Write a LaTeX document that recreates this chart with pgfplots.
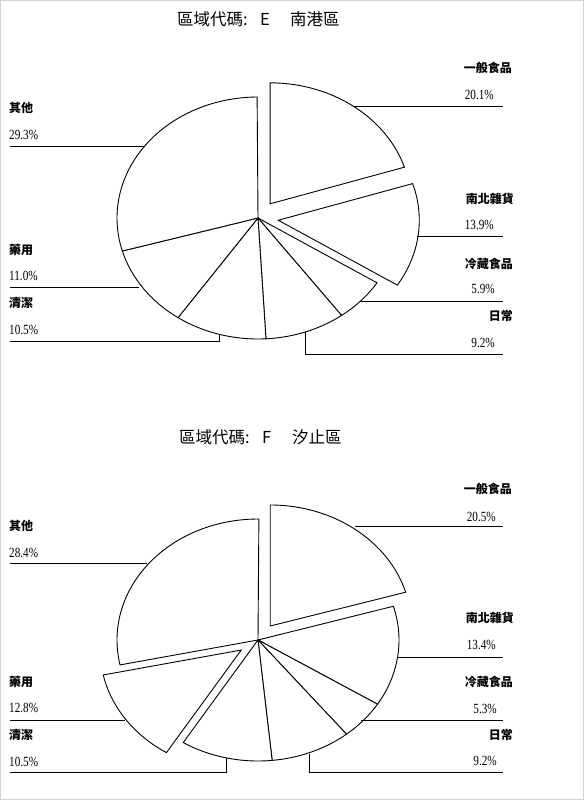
\documentclass[border=0pt]{standalone}
\usepackage{fontspec}
\setmainfont{Liberation Serif}
\newfontfamily\cjk{Noto Sans CJK TC}
\newfontfamily\pctfont[FakeStretch=0.8]{Liberation Serif}
\usepackage{pgfplots}
\usepackage{pgfplotstable}
\pgfplotsset{compat=1.18}

% share of each category, clockwise from 12 o'clock; expl=1 pulls the slice out
\pgfplotstableread{
pct expl
20.1 1
13.9 1
5.9 0
9.2 0
10.5 0
11.0 0
29.3 0
}\dataE
\pgfplotstableread{
pct expl
20.5 1
13.4 0
5.3 0
9.2 0
10.5 0
12.8 1
28.4 0
}\dataF

\def\rx{141}
\def\ry{121}
\def\pull{0.145}

\tikzset{
  pieline/.style={draw=black, fill=white, line width=0.9pt, line join=miter},
  lead/.style={draw=black, line width=0.8pt},
  cn/.style={font=\cjk\bfseries\fontsize{12}{12}\selectfont, inner sep=0pt},
  tt/.style={font=\cjk\fontsize{16.5}{16.5}\selectfont, inner sep=0pt, anchor=west},
  pc/.style={font=\pctfont\fontsize{14}{14}\selectfont, inner sep=0pt},
}

% #1 table, #2 #3 centre in axis units
\newcommand\drawpie[3]{%
  \pgfplotstablegetrowsof{#1}%
  \pgfmathtruncatemacro\lastrow{\pgfplotsretval-1}%
  \gdef\cum{0}%
  \foreach \i in {0,...,\lastrow}{%
    \pgfplotstablegetelem{\i}{pct}\of#1\let\p\pgfplotsretval
    \pgfplotstablegetelem{\i}{expl}\of#1\let\e\pgfplotsretval
    \pgfmathsetmacro\a{90-3.6*\cum}%
    \pgfmathsetmacro\b{90-3.6*(\cum+\p)}%
    \pgfmathsetmacro\m{(\a+\b)/2}%
    \pgfmathsetmacro\ox{\e*\pull*\rx}%
    \pgfmathsetmacro\oy{\e*\pull*\ry}%
    \pgfmathsetmacro\newcum{\cum+\p}\xdef\cum{\newcum}%
    \draw[pieline] (axis cs:#2,#3) ++(\m:\ox pt and \oy pt)
      -- ++(\a:\rx pt and \ry pt)
      arc[start angle=\a, end angle=\b, x radius=\rx pt, y radius=\ry pt] -- cycle;
  }%
}

\begin{document}
\begin{tikzpicture}
\begin{axis}[
  width=584pt, height=800pt, scale only axis,
  xmin=0, xmax=584, ymin=0, ymax=800, y dir=reverse,
  hide axis, clip=false,
]
\pgfplotsextra{\drawpie{\dataE}{258}{218}\drawpie{\dataF}{258}{640}}

% ---- E
\node[tt] at (axis cs:177,19) {區域代碼:};
\node[tt] at (axis cs:260,19) {E};
\node[tt] at (axis cs:290,19) {南港區};

\node[cn, anchor=west] at (axis cs:9,108) {其他};
\node[pc, anchor=west] at (axis cs:9,135) {29.3\%};
\draw[lead] (axis cs:10,146) -- (axis cs:145,146);
\node[cn, anchor=west] at (axis cs:9,250) {藥用};
\node[pc, anchor=west] at (axis cs:9,276) {11.0\%};
\draw[lead] (axis cs:10,287) -- (axis cs:139,287);
\node[cn, anchor=west] at (axis cs:9,303) {清潔};
\node[pc, anchor=west] at (axis cs:9,330) {10.5\%};
\draw[lead] (axis cs:10,341) -- (axis cs:219,341) -- (axis cs:219,334);

\node[cn, anchor=east] at (axis cs:512,68) {一般食品};
\node[pc, anchor=east] at (axis cs:494,95) {20.1\%};
\draw[lead] (axis cs:353,106) -- (axis cs:503,106);
\node[cn, anchor=east] at (axis cs:514,199) {南北雜貨};
\node[pc, anchor=east] at (axis cs:494,225) {13.9\%};
\draw[lead] (axis cs:417,236) -- (axis cs:503,236);
\node[cn, anchor=east] at (axis cs:513,264) {冷藏食品};
\node[pc, anchor=east] at (axis cs:495,289) {5.9\%};
\draw[lead] (axis cs:360,301) -- (axis cs:503,301);
\node[cn, anchor=east] at (axis cs:513,316) {日常};
\node[pc, anchor=east] at (axis cs:495,343) {9.2\%};
\draw[lead] (axis cs:305,332) -- (axis cs:305,354) -- (axis cs:503,354);

% ---- F
\node[tt] at (axis cs:179,437) {區域代碼:};
\node[tt] at (axis cs:262,437) {F};
\node[tt] at (axis cs:292,437) {汐止區};

\node[cn, anchor=west] at (axis cs:9,526) {其他};
\node[pc, anchor=west] at (axis cs:9,553) {28.4\%};
\draw[lead] (axis cs:10,563) -- (axis cs:147,563);
\node[cn, anchor=west] at (axis cs:9,682) {藥用};
\node[pc, anchor=west] at (axis cs:9,708) {12.8\%};
\draw[lead] (axis cs:10,720) -- (axis cs:125,720);
\node[cn, anchor=west] at (axis cs:9,735) {清潔};
\node[pc, anchor=west] at (axis cs:9,762) {10.5\%};
\draw[lead] (axis cs:10,772) -- (axis cs:226,772) -- (axis cs:226,758);

\node[cn, anchor=east] at (axis cs:512,489) {一般食品};
\node[pc, anchor=east] at (axis cs:496,517) {20.5\%};
\draw[lead] (axis cs:355,526) -- (axis cs:503,526);
\node[cn, anchor=east] at (axis cs:514,618) {南北雜貨};
\node[pc, anchor=east] at (axis cs:496,645) {13.4\%};
\draw[lead] (axis cs:397,657) -- (axis cs:503,657);
\node[cn, anchor=east] at (axis cs:513,682) {冷藏食品};
\node[pc, anchor=east] at (axis cs:497,709) {5.3\%};
\draw[lead] (axis cs:361,720) -- (axis cs:503,720);
\node[cn, anchor=east] at (axis cs:513,735) {日常};
\node[pc, anchor=east] at (axis cs:497,761) {9.2\%};
\draw[lead] (axis cs:309,754) -- (axis cs:309,772) -- (axis cs:503,772);

\draw[gray!35, line width=1.2pt] (axis cs:0.6,0.6) rectangle (axis cs:583.4,799.4);
\end{axis}
\end{tikzpicture}
\end{document}
